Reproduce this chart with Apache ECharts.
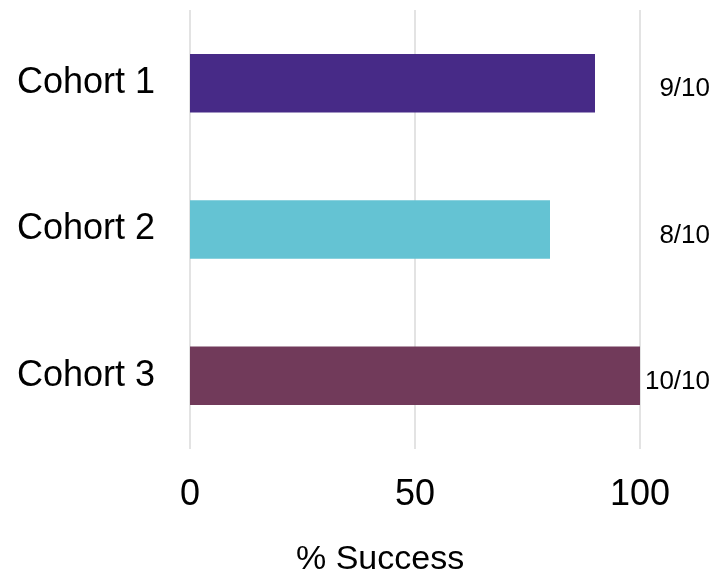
<!DOCTYPE html>
<html>
<head>
<meta charset="utf-8">
<script src="https://cdn.jsdelivr.net/npm/echarts@6/dist/echarts.min.js"></script>
<style>html,body{margin:0;padding:0;background:#fff}#c{width:728px;height:576px}</style>
</head>
<body>
<div id="c"></div>
<script>
var categories = ['Cohort 1', 'Cohort 2', 'Cohort 3'];
var successPct = [90, 80, 100];
var ratioLabels = ['9/10', '8/10', '10/10'];
var barColors = ['#472A87', '#64C3D3', '#713A5A'];
var xTicks = [0, 50, 100];

var chart = echarts.init(document.getElementById('c'), null, {renderer: 'canvas'});
var font = 'Liberation Sans, Arial, sans-serif';
chart.setOption({
  animation: false,
  backgroundColor: '#ffffff',
  title: {
    text: '% Success',
    left: 291,
    top: 538,
    textStyle: {fontFamily: font, fontSize: 34, fontWeight: 'normal', color: '#000'}
  },
  grid: {left: 190, right: 88, top: 10, bottom: 127, containLabel: false},
  xAxis: {
    type: 'value',
    min: xTicks[0],
    max: xTicks[xTicks.length - 1],
    interval: xTicks[1] - xTicks[0],
    axisLine: {show: false},
    axisTick: {show: false},
    splitLine: {show: true, lineStyle: {color: '#dadada', width: 1.5}},
    axisLabel: {fontFamily: font, fontSize: 36, color: '#000', margin: 28}
  },
  yAxis: [{
    type: 'category',
    inverse: true,
    data: categories,
    axisLine: {show: false},
    axisTick: {show: false},
    splitLine: {show: false},
    axisLabel: {fontFamily: font, fontSize: 36, color: '#000', margin: 35}
  }, {
    type: 'category',
    inverse: true,
    position: 'right',
    data: ratioLabels,
    axisLine: {show: false},
    axisTick: {show: false},
    splitLine: {show: false},
    axisLabel: {fontFamily: font, fontSize: 26, color: '#000', margin: 70, align: 'right', verticalAlign: 'top', lineHeight: 12}
  }],
  series: [{
    type: 'bar',
    yAxisIndex: 0,
    barWidth: '40%',
    data: successPct.map(function (v, i) {
      return {value: v, itemStyle: {color: barColors[i]}};
    })
  }]
});
</script>
</body>
</html>
